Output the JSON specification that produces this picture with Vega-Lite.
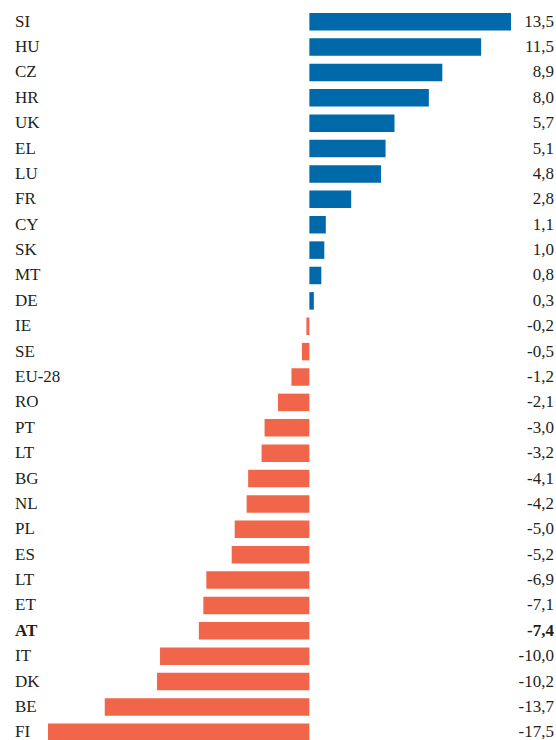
{
  "$schema": "https://vega.github.io/schema/vega-lite/v6.json",
  "width": 463,
  "height": 736,
  "autosize": {"type": "none"},
  "padding": {"left": 48, "top": 9, "right": 45, "bottom": 0},
  "background": "white",
  "config": {
    "view": {"stroke": null},
    "text": {"font": "Liberation Serif", "fontSize": 17, "color": "#231F20", "baseline": "middle"},
    "locale": {"number": {"decimal": ",", "thousands": ".", "grouping": [3], "currency": ["", " €"], "minus": "-"}}
  },
  "data": {
    "values": [
      {"rank": 1, "country": "SI", "value": 13.5},
      {"rank": 2, "country": "HU", "value": 11.5},
      {"rank": 3, "country": "CZ", "value": 8.9},
      {"rank": 4, "country": "HR", "value": 8.0},
      {"rank": 5, "country": "UK", "value": 5.7},
      {"rank": 6, "country": "EL", "value": 5.1},
      {"rank": 7, "country": "LU", "value": 4.8},
      {"rank": 8, "country": "FR", "value": 2.8},
      {"rank": 9, "country": "CY", "value": 1.1},
      {"rank": 10, "country": "SK", "value": 1.0},
      {"rank": 11, "country": "MT", "value": 0.8},
      {"rank": 12, "country": "DE", "value": 0.3},
      {"rank": 13, "country": "IE", "value": -0.2},
      {"rank": 14, "country": "SE", "value": -0.5},
      {"rank": 15, "country": "EU-28", "value": -1.2},
      {"rank": 16, "country": "RO", "value": -2.1},
      {"rank": 17, "country": "PT", "value": -3.0},
      {"rank": 18, "country": "LT", "value": -3.2},
      {"rank": 19, "country": "BG", "value": -4.1},
      {"rank": 20, "country": "NL", "value": -4.2},
      {"rank": 21, "country": "PL", "value": -5.0},
      {"rank": 22, "country": "ES", "value": -5.2},
      {"rank": 23, "country": "LT", "value": -6.9},
      {"rank": 24, "country": "ET", "value": -7.1},
      {"rank": 25, "country": "AT", "value": -7.4},
      {"rank": 26, "country": "IT", "value": -10.0},
      {"rank": 27, "country": "DK", "value": -10.2},
      {"rank": 28, "country": "BE", "value": -13.7},
      {"rank": 29, "country": "FI", "value": -17.5}
    ]
  },
  "encoding": {
    "y": {
      "field": "rank",
      "type": "ordinal",
      "axis": null,
      "scale": {"paddingInner": 0.31, "paddingOuter": 0.155}
    }
  },
  "layer": [
    {
      "mark": {"type": "bar"},
      "encoding": {
        "x": {
          "field": "value",
          "type": "quantitative",
          "scale": {"domain": [-17.5, 13.5], "nice": false, "zero": true},
          "axis": null
        },
        "color": {
          "condition": {"test": "datum.value >= 0", "value": "#0069AA"},
          "value": "#F1664A"
        }
      }
    },
    {
      "transform": [{"filter": "datum.country !== 'AT'"}],
      "mark": {"type": "text", "align": "left", "dx": -33, "fontWeight": "normal"},
      "encoding": {
        "x": {"datum": -17.5},
        "text": {"field": "country"}
      }
    },
    {
      "transform": [{"filter": "datum.country === 'AT'"}],
      "mark": {"type": "text", "align": "left", "dx": -33, "fontWeight": "bold"},
      "encoding": {
        "x": {"datum": -17.5},
        "text": {"field": "country"}
      }
    },
    {
      "transform": [{"filter": "datum.country !== 'AT'"}],
      "mark": {"type": "text", "align": "right", "dx": 43, "fontWeight": "normal"},
      "encoding": {
        "x": {"datum": 13.5},
        "text": {"field": "value", "type": "quantitative", "format": ".1f"}
      }
    },
    {
      "transform": [{"filter": "datum.country === 'AT'"}],
      "mark": {"type": "text", "align": "right", "dx": 43, "fontWeight": "bold"},
      "encoding": {
        "x": {"datum": 13.5},
        "text": {"field": "value", "type": "quantitative", "format": ".1f"}
      }
    }
  ]
}
